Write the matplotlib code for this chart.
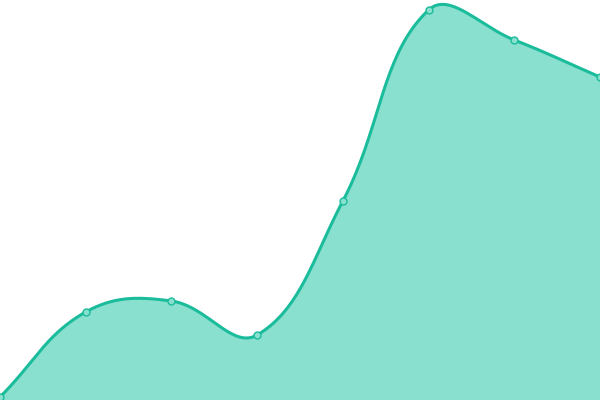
import numpy as np
import matplotlib
matplotlib.use("Agg")
import matplotlib.pyplot as plt

# data
labels = ["A", "B", "C", "D", "E", "F", "G", "H"]
values = [3, 88, 99, 65, 199, 390, 360, 323]

LINE = "#1abc9c"
FILL = "#8ae0cf"


def spline(xs, ys, sx, sy, tension=0.4, n=40):
    # chart.js style spline, distances measured in pixel space
    px = np.asarray(xs, float) * sx
    py = np.asarray(ys, float) * sy
    m = len(px)
    cp_prev = np.zeros((m, 2))
    cp_next = np.zeros((m, 2))
    for i in range(m):
        p1 = np.array([px[i], py[i]])
        p0 = np.array([px[i - 1], py[i - 1]]) if i > 0 else p1
        p2 = np.array([px[i + 1], py[i + 1]]) if i < m - 1 else p1
        d01 = np.hypot(*(p1 - p0))
        d12 = np.hypot(*(p2 - p1))
        tot = d01 + d12
        s01 = d01 / tot if tot else 0
        s12 = d12 / tot if tot else 0
        cp_prev[i] = p1 - tension * s01 * (p2 - p0)
        cp_next[i] = p1 + tension * s12 * (p2 - p0)
    t = np.linspace(0, 1, n)[:, None]
    out = []
    for i in range(m - 1):
        a = np.array([px[i], py[i]])
        b = cp_next[i]
        c = cp_prev[i + 1]
        d = np.array([px[i + 1], py[i + 1]])
        seg = (1 - t) ** 3 * a + 3 * (1 - t) ** 2 * t * b + 3 * (1 - t) * t ** 2 * c + t ** 3 * d
        out.append(seg if i == 0 else seg[1:])
    pts = np.vstack(out)
    return pts[:, 0] / sx, pts[:, 1] / sy


fig = plt.figure(figsize=(6, 4), dpi=100)
ax = fig.add_axes([0, 0, 1, 1])
x = np.arange(len(values))
ax.set_xlim(0, len(values) - 1)
ax.set_ylim(0, 400)

sx = 600 / (len(values) - 1)
sy = 400 / 400
cx, cy = spline(x, values, sx, sy)

ax.fill_between(cx, cy, 0, color=FILL, lw=0, zorder=1)
ax.plot(cx, cy, color=LINE, lw=2.2, zorder=2, solid_capstyle="round")
ax.plot(x, values, "o", ms=5, mfc=FILL, mec=LINE, mew=1.0, zorder=3, clip_on=False)

ax.axis("off")
fig.savefig("out.png", dpi=100)
